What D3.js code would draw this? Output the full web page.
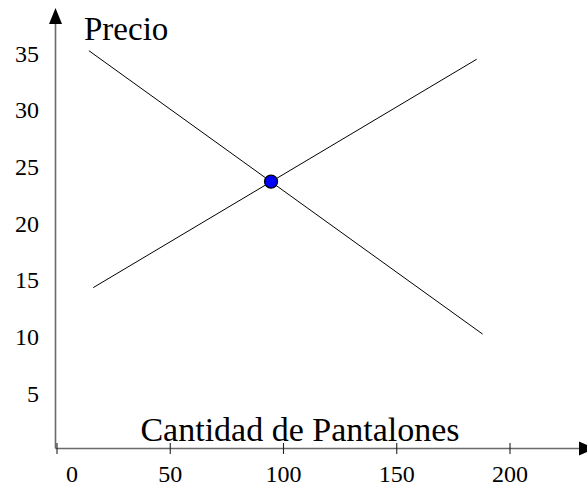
<!DOCTYPE html>
<html>
<head>
<meta charset="utf-8">
<script src="https://cdn.jsdelivr.net/npm/d3@7"></script>
<style>
  html, body { margin: 0; padding: 0; background: #fff; }
  svg { display: block; }
  text { font-family: "Liberation Serif", "Times New Roman", serif; fill: #000; }
</style>
</head>
<body>
<svg id="chart" width="587" height="487"></svg>
<script>
// Supply and demand for trousers
const xTicks = [0, 50, 100, 150, 200];
const yTicks = [5, 10, 15, 20, 25, 30, 35];
const demand = [[14.1, 35.2], [187.9, 10.2]];   // [cantidad, precio]
const supply = [[16.0, 14.3], [185.3, 34.45]];
const equilibrium = [94.5, 23.65];
const xLabel = "Cantidad de Pantalones";
const yLabel = "Precio";

const svg = d3.select("#chart");
const x = d3.scaleLinear().domain([0, 200]).range([57, 510]);
const y = d3.scaleLinear().domain([0, 35]).range([449.7, 53]);

const axisX0 = 55.5, axisY0 = 448.5;

// axes lines
svg.append("line").attr("x1", axisX0).attr("x2", 582).attr("y1", axisY0).attr("y2", axisY0)
  .attr("stroke", "#6a6a6a").attr("stroke-width", 1.6);
svg.append("line").attr("x1", axisX0).attr("x2", axisX0).attr("y1", axisY0).attr("y2", 20)
  .attr("stroke", "#6a6a6a").attr("stroke-width", 1.6);

// arrowheads
svg.append("path")
  .attr("d", `M${axisX0},8 L${axisX0 - 6.5},24 L${axisX0 + 6.5},24 Z`)
  .attr("fill", "#000");
svg.append("path")
  .attr("d", `M579,${axisY0 - 7} L595,${axisY0} L579,${axisY0 + 7} Z`)
  .attr("fill", "#000");

// x ticks and labels
const xt = svg.append("g");
xt.selectAll("line").data(xTicks).join("line")
  .attr("x1", d => x(d)).attr("x2", d => x(d))
  .attr("y1", axisY0 - 5.5).attr("y2", axisY0 + 5.5)
  .attr("stroke", "#222").attr("stroke-width", 1.1);
xt.selectAll("text").data(xTicks).join("text")
  .attr("x", d => d === 0 ? x(d) + 15 : x(d))
  .attr("y", 482)
  .attr("text-anchor", "middle")
  .attr("font-size", 24)
  .text(d => d);

// y labels
svg.append("g").selectAll("text").data(yTicks).join("text")
  .attr("x", 39)
  .attr("y", d => y(d) + 8.5)
  .attr("text-anchor", "end")
  .attr("font-size", 24)
  .text(d => d);

// axis titles
svg.append("text").attr("x", 84).attr("y", 40).attr("font-size", 33).text(yLabel);
svg.append("text").attr("x", 300).attr("y", 441).attr("text-anchor", "middle")
  .attr("font-size", 34).text(xLabel);

// curves
const line = d3.line().x(d => x(d[0])).y(d => y(d[1]));
[demand, supply].forEach(s => {
  svg.append("path").datum(s).attr("d", line)
    .attr("fill", "none").attr("stroke", "#000").attr("stroke-width", 1);
});

// equilibrium point
svg.append("circle")
  .attr("cx", x(equilibrium[0])).attr("cy", y(equilibrium[1]))
  .attr("r", 6.5)
  .attr("fill", "#0000ff").attr("stroke", "#000").attr("stroke-width", 1.2);
</script>
</body>
</html>
